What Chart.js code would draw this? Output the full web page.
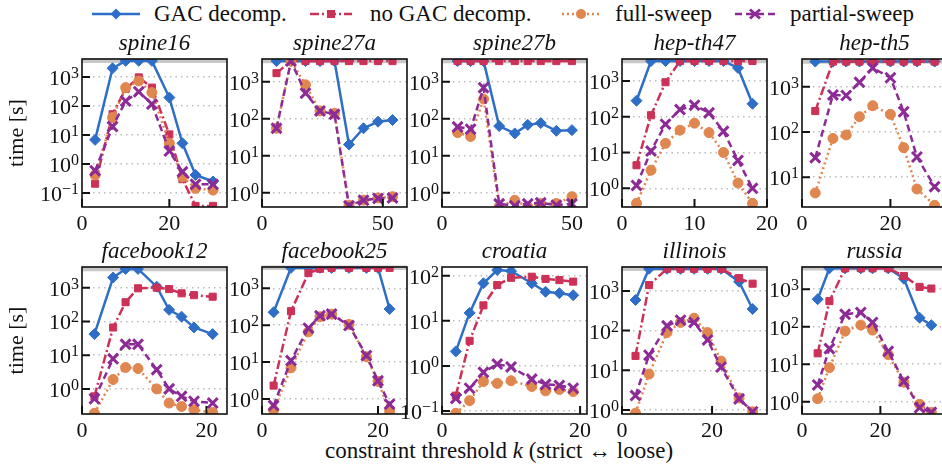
<!DOCTYPE html>
<html>
<head>
<meta charset="utf-8">
<script src="https://cdn.jsdelivr.net/npm/chart.js@4.4.0/dist/chart.umd.min.js"></script>
<style>
body{margin:0;background:#fff;width:942px;height:468px;overflow:hidden;position:relative;font-family:"Liberation Serif",serif;color:#111;}
canvas{position:absolute;}
.item{position:absolute;top:1px;height:26px;font-size:23px;line-height:26px;white-space:nowrap;}
.key{position:absolute;top:2px;}
#xlabel{position:absolute;left:199px;width:600px;top:438px;text-align:center;font-size:23px;white-space:nowrap;}
</style>
</head>
<body>
<svg class="key" style="left:92px" width="48" height="24"><line x1="0" y1="12" x2="48" y2="12" stroke="#2f6ec6" stroke-width="2.5"/><polygon points="24,6.5 29.5,12 24,17.5 18.5,12" fill="#2f6ec6"/></svg>
<div class="item" style="left:154px">GAC decomp.</div>
<svg class="key" style="left:310px" width="42" height="24"><line x1="0" y1="12" x2="42" y2="12" stroke="#cc3157" stroke-width="2.5" stroke-dasharray="9,3,2,3"/><rect x="17" y="8" width="8" height="8" fill="#cc3157"/></svg>
<div class="item" style="left:370px">no GAC decomp.</div>
<svg class="key" style="left:562px" width="38" height="24"><line x1="0" y1="12" x2="38" y2="12" stroke="#e0864f" stroke-width="2.5" stroke-dasharray="2,3"/><circle cx="19" cy="12" r="5" fill="#e0864f"/></svg>
<div class="item" style="left:615px">full-sweep</div>
<svg class="key" style="left:735px" width="40" height="24"><line x1="0" y1="12" x2="40" y2="12" stroke="#8c2a96" stroke-width="2.5" stroke-dasharray="7,4"/><path d="M15,7.5 L25,16.5 M25,7.5 L15,16.5" stroke="#8c2a96" stroke-width="3"/></svg>
<div class="item" style="left:790px">partial-sweep</div>
<div id="xlabel">constraint threshold <i>k</i> (strict ↔ loose)</div>

<script>
// panels, left to right, top row then bottom row
var panelNames = ['spine16', 'spine27a', 'spine27b', 'hep-th47', 'hep-th5',
                  'facebook12', 'facebook25', 'croatia', 'illinois', 'russia'];

var kValues = [
  [3, 7, 10, 13, 16, 20, 23, 26, 30],
  [6, 12, 18, 24, 30, 36, 42, 48, 54],
  [6, 11, 16, 22, 28, 33, 38, 44, 50],
  [2, 4, 6, 8, 10, 12, 14, 16, 18],
  [3, 7, 10, 13, 16, 20, 23, 26, 30],
  [2, 5, 7, 9, 12, 14, 16, 18, 21],
  [2, 5, 8, 10, 12, 15, 18, 20, 22],
  [2, 4, 6, 8, 10, 13, 15, 17, 19],
  [3, 6, 10, 13, 16, 19, 22, 26, 29],
  [4, 7, 11, 15, 18, 22, 26, 30, 33]
];

var gacDecomp = [
  [6.8, 2000, 3600, 3600, 3600, 195, 5.2, 0.42, 0.25],
  [3600, 3600, 3600, 3600, 3600, 20, 55, 83, 92],
  [3600, 3600, 3600, 63, 40, 68, 76, 47, 49],
  [280, 3600, 3600, 3600, 3600, 3600, 3600, 2300, 230],
  [3600, 3600, 3600, 3600, 3600, 3600, 3600, 3600, 3600],
  [42, 2000, 3600, 3600, 1070, 220, 138, 66, 42],
  [225, 3600, 3600, 3600, 3600, 3600, 3600, 3600, 275],
  [2.1, 15, 68, 134, 127, 68, 44, 41, 37],
  [590, 3600, 3600, 3600, 3600, 3600, 3600, 1700, 350],
  [540, 3600, 3600, 3600, 3600, 3600, 1900, 173, 110]
];

var noGacDecomp = [
  [0.21, 52, 390, 970, 430, 10.5, 0.3, 0.036, 0.036],
  [1700, 3600, 3600, 3600, 3600, 3600, 3600, 3600, 3600],
  [3600, 3600, 3600, 3600, 3600, 3600, 3600, 3600, 3600],
  [4.4, 110, 920, 3600, 3600, 3600, 3600, 3600, 3600],
  [290, 3600, 3600, 3600, 3600, 3600, 3600, 3600, 3600],
  [0.6, 66, 370, 960, 1000, 910, 680, 600, 540],
  [2.3, 240, 2600, 3400, 3600, 3600, 3600, 3600, 3600],
  [0.22, 3.6, 22, 62, 90, 95, 85, 80, 74],
  [23, 1400, 3600, 3600, 3600, 3600, 3600, 2100, 1520],
  [19.5, 480, 3600, 3600, 3600, 3600, 2250, 1150, 1040]
];

var fullSweep = [
  [0.42, 40, 430, 730, 290, 5.2, 0.36, 0.145, 0.126],
  [55, 3600, 820, 162, 140, 0.46, 0.63, 0.72, 0.78],
  [42, 33, 340, 0.42, 0.62, 0.42, 0.51, 0.51, 0.78],
  [0.38, 3.2, 18, 42, 66, 36, 10, 1.4, 0.38],
  [4.5, 72, 86, 218, 380, 245, 45, 5.5, 2.4],
  [0.19, 1.9, 4.3, 4.0, 1.0, 0.38, 0.3, 0.24, 0.2],
  [0.5, 7, 66, 170, 200, 105, 14, 3, 0.46],
  [0.089, 0.17, 0.45, 0.41, 0.47, 0.35, 0.28, 0.3, 0.27],
  [0.83, 8, 89, 160, 205, 89, 17, 2.0, 0.9],
  [1.2, 8.1, 76, 110, 81, 18, 3.3, 0.85, 0.52]
];

var partialSweep = [
  [0.59, 19.5, 148, 310, 117, 2.8, 0.54, 0.2, 0.2],
  [55, 3600, 490, 162, 131, 0.44, 0.62, 0.7, 0.72],
  [60, 52, 690, 0.5, 0.44, 0.5, 0.53, 0.46, 0.5],
  [1.2, 11, 62, 158, 210, 128, 39, 6, 1.0],
  [27, 660, 640, 1250, 2600, 1580, 280, 28, 6.2],
  [0.51, 7.8, 21, 21, 3.7, 1.0, 0.6, 0.43, 0.38],
  [0.66, 11, 83, 180, 200, 98, 15, 3.1, 0.72],
  [0.19, 0.32, 0.72, 1.1, 0.95, 0.51, 0.39, 0.37, 0.32],
  [2.3, 24, 132, 183, 160, 58, 12, 1.9, 0.9],
  [2.8, 26, 213, 240, 130, 22, 3.5, 0.69, 0.52]
];

var xMax  = [33.2, 60, 55.8, 20, 32.8, 23.3, 25, 21, 32.2, 37];
var xStep = [20, 50, 50, 10, 20, 20, 20, 20, 20, 20];
var yMin  = [0.033, 0.41, 0.41, 0.34, 2.2, 0.18, 0.39, 0.086, 0.79, 0.47];
var yMax  = [4170, 4100, 4100, 4100, 4100, 4100, 3800, 156, 4000, 3900];
var timeout = 3600;

var serif = '"Liberation Serif", serif';
Chart.defaults.font.family = serif;
Chart.defaults.font.size = 22;
Chart.defaults.color = '#111';

var framePlugin = {
  id: 'frame',
  beforeDatasetsDraw: function(chart) {
    var y = chart.scales.y, a = chart.chartArea, ctx = chart.ctx;
    if (timeout <= y.max) {
      var py = y.getPixelForValue(timeout);
      ctx.save();
      ctx.strokeStyle = '#c8c8c8';
      ctx.lineWidth = 4.5;
      ctx.beginPath();
      ctx.moveTo(a.left, py);
      ctx.lineTo(a.right, py);
      ctx.stroke();
      ctx.restore();
    }
  },
  afterDraw: function(chart) {
    var a = chart.chartArea, ctx = chart.ctx;
    var x = chart.scales.x, y = chart.scales.y;
    ctx.save();
    ctx.strokeStyle = '#111';
    ctx.lineWidth = 1.6;
    ctx.strokeRect(a.left, a.top, a.right - a.left, a.bottom - a.top);
    ctx.lineWidth = 2;
    ctx.beginPath();
    y.ticks.forEach(function(t) {
      var py = y.getPixelForValue(t.value);
      ctx.moveTo(a.left, py);
      ctx.lineTo(a.left + 8, py);
    });
    x.ticks.forEach(function(t) {
      var px = x.getPixelForValue(t.value);
      ctx.moveTo(px, a.bottom);
      ctx.lineTo(px, a.bottom - 8);
    });
    ctx.stroke();

    // y tick labels as 10 with a raised exponent
    ctx.fillStyle = '#111';
    ctx.textBaseline = 'alphabetic';
    ctx.textAlign = 'left';
    y.ticks.forEach(function(t) {
      var py = y.getPixelForValue(t.value);
      var e = String(Math.round(Math.log10(t.value))).replace('-', '\u2212');
      ctx.font = '16px ' + serif;
      var we = ctx.measureText(e).width;
      ctx.font = '22px ' + serif;
      var wb = ctx.measureText('10').width;
      var right = a.left - 3;
      ctx.fillText('10', right - we - wb, py + 8);
      ctx.font = '16px ' + serif;
      ctx.fillText(e, right - we, py + 1);
    });
    ctx.restore();
  }
};

var plotLefts = [82, 262, 442, 622, 802];
var plotTops = [59, 267];
var plotHeights = [148, 147];
var plotWidth = 145;
var leftRoom = 80, rightRoom = 25, titleRoom = 30, tickRoom = 32;

function series(label, data, color, style) {
  var d = {
    label: label,
    data: data,
    borderColor: color,
    backgroundColor: color,
    pointBackgroundColor: color,
    pointBorderColor: color,
    borderWidth: 2.5,
    pointRadius: 5,
    pointBorderWidth: 1,
    tension: 0,
    fill: false
  };
  for (var key in style) d[key] = style[key];
  return d;
}

for (var i = 0; i < panelNames.length; i++) {
  var row = Math.floor(i / 5), col = i % 5;
  var cv = document.createElement('canvas');
  var w = leftRoom + plotWidth + rightRoom;
  var h = titleRoom + plotHeights[row] + tickRoom;
  cv.width = w;
  cv.height = h;
  cv.style.left = (plotLefts[col] - leftRoom) + 'px';
  cv.style.top = (plotTops[row] - titleRoom) + 'px';
  document.body.appendChild(cv);

  var pts = function(ys) {
    return kValues[i].map(function(k, j) { return {x: k, y: ys[j]}; });
  };

  new Chart(cv, {
    type: 'line',
    data: {
      datasets: [
        series('GAC decomp.', pts(gacDecomp[i]), '#2f6ec6', {pointStyle: 'rectRot', pointRadius: 5.5, order: 3}),
        series('no GAC decomp.', pts(noGacDecomp[i]), '#cc3157', {pointStyle: 'rect', pointRadius: 5, borderDash: [9, 3, 2, 3], order: 2}),
        series('full-sweep', pts(fullSweep[i]), '#e0864f', {pointStyle: 'circle', pointRadius: 5, borderDash: [2, 3], order: 1}),
        series('partial-sweep', pts(partialSweep[i]), '#8c2a96', {pointStyle: 'crossRot', pointRadius: 7, pointBorderWidth: 3, borderDash: [7, 4], order: 0})
      ]
    },
    options: {
      responsive: false,
      animation: false,
      layout: {padding: {left: 0, right: rightRoom, top: 0, bottom: 0}},
      plugins: {
        legend: {display: false},
        tooltip: {enabled: false},
        title: {
          display: true,
          text: panelNames[i],
          fullSize: false,
          font: {size: 23, style: 'italic', weight: 'normal', lineHeight: 1.1},
          padding: {top: 2, bottom: 2.7},
          color: '#111'
        }
      },
      scales: {
        x: {
          type: 'linear',
          min: 0,
          max: xMax[i],
          grid: {display: false, drawTicks: false},
          border: {display: false},
          ticks: {stepSize: xStep[i], includeBounds: false, maxRotation: 0, padding: 4, autoSkip: false},
          afterFit: function(s) { s.height = tickRoom; }
        },
        y: {
          type: 'logarithmic',
          min: yMin[i],
          max: yMax[i],
          grid: {color: '#bdbdbd', lineWidth: 1.5, drawTicks: false},
          border: {display: false, dash: [1.5, 4]},
          ticks: {display: false},
          afterBuildTicks: function(s) {
            var t = [];
            for (var e = Math.ceil(Math.log10(s.min) - 1e-9); Math.pow(10, e) <= s.max; e++) {
              t.push({value: Math.pow(10, e)});
            }
            s.ticks = t;
          },
          title: {display: col === 0, text: 'time [s]', padding: {top: 2, bottom: 0}, font: {size: 22}},
          afterFit: function(s) { s.width = leftRoom; }
        }
      }
    },
    plugins: [framePlugin]
  });
}
</script>
</body>
</html>
